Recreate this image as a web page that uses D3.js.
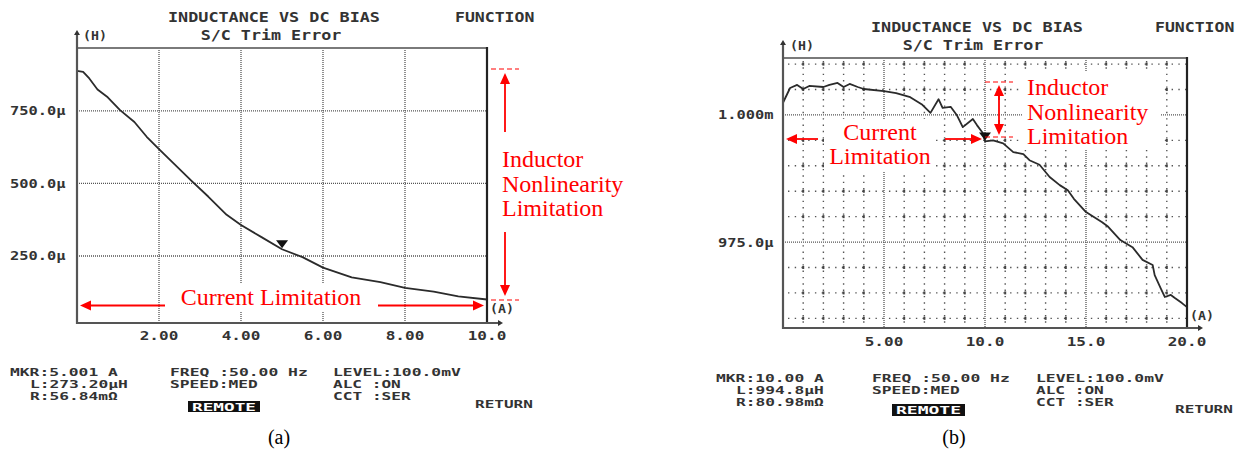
<!DOCTYPE html>
<html>
<head>
<meta charset="utf-8">
<script src="https://cdn.jsdelivr.net/npm/d3@7"></script>
<style>
  html, body { margin: 0; padding: 0; background: #fff; }
  svg { display: block; }
  .mono { font-family: "DejaVu Sans Mono", "Liberation Mono", monospace; fill: #333; font-weight: bold; }
  .serif { font-family: "Liberation Serif", "Times New Roman", serif; }
</style>
</head>
<body>
<svg id="chart" width="1247" height="461"></svg>
<script>
// ---- (a) inductance vs DC bias, 0–10 A sweep ----
const currentA = [0, 0.15, 0.3, 0.5, 0.75, 1.05, 1.4, 1.7, 2.0, 2.35, 2.8, 3.2, 3.65, 4.0, 4.5, 5.0, 5.5, 6.0, 6.7, 7.4, 8.0, 8.7, 9.3, 10.0];
const inductanceA = [888, 885, 862, 824, 797, 753, 712, 661, 618, 570, 508, 455, 392, 357, 315, 273.2, 246, 210, 176, 160, 140, 127, 111, 100];
const yRangeA = [19, 967];            // µH shown on the screen
const xRangeA = [0, 10];              // A
const xTicksA = [2, 4, 6, 8, 10];
const xTickLabelsA = ["2.00", "4.00", "6.00", "8.00", "10.0"];
const yTicksA = [250, 500, 750];
const yTickLabelsA = ["250.0\u03bc", "500.0\u03bc", "750.0\u03bc"];
const markerA = { current: 5.001, inductance: 273.20 };
const readoutA = [
  ["MKR:5.001 A", "L:273.20\u03bcH", "R:56.84m\u03a9"],
  ["FREQ :50.00 Hz", "SPEED:MED"],
  ["LEVEL:100.0mV", "ALC :ON", "CCT :SER"]
];

// ---- (b) inductance vs DC bias, 0–20 A sweep ----
const currentB = [0, 0.35, 0.7, 1.0, 1.3, 2.0, 2.3, 2.7, 3.0, 3.3, 3.7, 4.0, 5.0, 5.6, 6.3, 6.9, 7.3, 7.7, 7.9, 8.3, 8.6, 8.9, 9.4, 9.6, 9.9, 10.0, 10.4, 10.9, 11.4, 11.9, 12.2, 12.7, 13.2, 13.7, 14.1, 14.4, 15.0, 15.8, 16.1, 16.7, 17.3, 17.8, 18.3, 18.4, 18.7, 18.9, 19.2, 19.4, 19.75, 20.0];
const inductanceB = [1002.4, 1005.3, 1005.9, 1005.1, 1005.7, 1005.5, 1005.9, 1006.3, 1005.5, 1006.1, 1005.5, 1005.1, 1004.7, 1004.3, 1003.5, 1002.0, 1000.4, 1003.1, 1001.4, 1001.6, 1000.0, 997.6, 999.2, 998.0, 996.4, 994.8, 995.0, 994.4, 992.7, 992.3, 991.1, 990.2, 987.8, 986.2, 985.2, 983.5, 980.9, 978.9, 978.0, 975.4, 974.0, 971.5, 970.5, 968.5, 965.9, 964.2, 964.6, 964.0, 963.0, 962.2];
const yRangeB = [958.1, 1011.2];
const xRangeB = [0, 20];
const xTicksB = [5, 10, 15, 20];
const xTickLabelsB = ["5.00", "10.0", "15.0", "20.0"];
const yTicksB = [975, 1000];
const yTickLabelsB = ["975.0\u03bc", "1.000m"];
const xMinorB = d3.range(1, 20).filter(v => v % 5 !== 0);
const yMinorB = d3.range(960, 1011, 5).filter(v => v !== 975 && v !== 1000);
const markerB = { current: 10.00, inductance: 994.8 };
const readoutB = [
  ["MKR:10.00 A", "L:994.8\u03bcH", "R:80.98m\u03a9"],
  ["FREQ :50.00 Hz", "SPEED:MED"],
  ["LEVEL:100.0mV", "ALC :ON", "CCT :SER"]
];

const svg = d3.select("#chart");
const RED = "#ff0000";

// screen layout of each analyzer capture
const panels = [
  { x0: 77, x1: 487, y0: 48, y1: 323, xDom: xRangeA, yDom: yRangeA,
    xs: currentA, ys: inductanceA, xt: xTicksA, xtl: xTickLabelsA, yt: yTicksA, ytl: yTickLabelsA,
    marker: markerA, readout: readoutA, caption: "(a)",
    titleX: 274, titleY: 17, subX: 271, subY: 35, funcX: 455, hX: 83, hY: 35,
    yLabX: 10, xLabY: 335, aX: 490, aY: 308,
    readY: [372, 384, 396], cols: [10, 170, 333], remote: { x: 188, y: 401, w: 72, h: 11 },
    retX: 475, retY: 404, capX: 279, capY: 437, minor: false },
  { x0: 783, x1: 1187, y0: 58, y1: 328, xDom: xRangeB, yDom: yRangeB,
    xs: currentB, ys: inductanceB, xt: xTicksB, xtl: xTickLabelsB, yt: yTicksB, ytl: yTickLabelsB,
    marker: markerB, readout: readoutB, caption: "(b)",
    titleX: 977, titleY: 27, subX: 973, subY: 45, funcX: 1155, hX: 790, hY: 45,
    yLabX: 718, xLabY: 341, aX: 1190, aY: 315,
    readY: [378, 390, 402], cols: [716, 872, 1036], remote: { x: 892, y: 404, w: 73, h: 12 },
    retX: 1175, retY: 409, capX: 954, capY: 437, minor: true }
];

// instrument-style text: each glyph cell is `adv` px wide, glyphs stretched to fill
function monoText(g, str, x, y, size, adv, anchor) {
  return g.append("text").attr("class", "mono")
    .attr("x", x).attr("y", y)
    .attr("dominant-baseline", "central")
    .attr("text-anchor", anchor || "start")
    .attr("textLength", str.length * adv - adv * 0.22)
    .attr("lengthAdjust", "spacingAndGlyphs")
    .style("font-size", size + "px")
    .text(str);
}

panels.forEach(p => {
  const g = svg.append("g");
  const x = d3.scaleLinear().domain(p.xDom).range([p.x0, p.x1]);
  const y = d3.scaleLinear().domain(p.yDom).range([p.y1, p.y0]);

  // minor grid (1 A / 5 µH) drawn as sparse dots
  if (p.minor) {
    g.selectAll(".vmin").data(xMinorB).join("line")
      .attr("x1", d => x(d)).attr("x2", d => x(d))
      .attr("y1", p.y0 + 3).attr("y2", p.y1)
      .attr("stroke", "#555").attr("stroke-width", 1.4)
      .attr("stroke-dasharray", "1.4 4.95");
    g.selectAll(".hmin").data(yMinorB).join("line")
      .attr("x1", p.x0 + 5).attr("x2", p.x1)
      .attr("y1", d => y(d)).attr("y2", d => y(d))
      .attr("stroke", "#555").attr("stroke-width", 1.4)
      .attr("stroke-dasharray", "1.4 5.33");
    // small marks where the minor grid crosses
    const cross = [];
    xMinorB.forEach(a => yMinorB.forEach(b => cross.push([a, b])));
    g.selectAll(".cr").data(cross).join("rect")
      .attr("x", d => x(d[0]) - 1).attr("y", d => y(d[1]) - 1.5)
      .attr("width", 2).attr("height", 3).attr("fill", "#444");
  }

  // major grid: dense dotted lines
  const xMajor = p.xt.filter(v => v < p.xDom[1]);
  g.selectAll(".vmaj").data(xMajor).join("line")
    .attr("x1", d => x(d)).attr("x2", d => x(d))
    .attr("y1", p.y0).attr("y2", p.y1)
    .attr("stroke", "#555").attr("stroke-width", 1.3)
    .attr("stroke-dasharray", "1 1");
  g.selectAll(".hmaj").data(p.yt).join("line")
    .attr("x1", p.x0).attr("x2", p.x1)
    .attr("y1", d => y(d)).attr("y2", d => y(d))
    .attr("stroke", "#555").attr("stroke-width", 1.3)
    .attr("stroke-dasharray", "1 1");

  p.g = g; p.x = x; p.y = y;
});

// white patches behind the annotation text (drawn over the grid)
svg.append("rect").attr("x", 172).attr("y", 284).attr("width", 198).attr("height", 28).attr("fill", "#fff");
svg.append("rect").attr("x", 824).attr("y", 119).attr("width", 112).attr("height", 52).attr("fill", "#fff");
svg.append("rect").attr("x", 1023).attr("y", 72).attr("width", 138).attr("height", 78).attr("fill", "#fff");

panels.forEach(p => {
  const g = svg.append("g");
  const { x, y } = p;

  // measured trace
  const pts = p.xs.map((v, i) => [v, p.ys[i]]);
  g.append("path").datum(pts)
    .attr("fill", "none").attr("stroke", "#2b2b2b").attr("stroke-width", 1.8)
    .attr("stroke-linejoin", "round")
    .attr("d", d3.line().x(d => x(d[0])).y(d => y(d[1])));

  // marker triangle
  const mx = x(p.marker.current), my = y(p.marker.inductance);
  g.append("path")
    .attr("d", `M${mx - 6},${my - 9}L${mx + 6},${my - 9}L${mx},${my - 1}Z`)
    .attr("fill", "#111");

  // frame and axes
  g.append("line").attr("x1", p.x0).attr("x2", p.x1 + 1).attr("y1", p.y0).attr("y2", p.y0)
    .attr("stroke", "#7a7a7a").attr("stroke-width", 2.2);
  g.append("line").attr("x1", p.x1).attr("x2", p.x1).attr("y1", p.y0 - 1).attr("y2", p.y1)
    .attr("stroke", "#222").attr("stroke-width", 2.2);
  g.append("line").attr("x1", p.x0).attr("x2", p.x0).attr("y1", p.y0 - 14).attr("y2", p.y1 + 1)
    .attr("stroke", "#555").attr("stroke-width", 2.2);
  g.append("line").attr("x1", p.x0).attr("x2", p.x1 + 12).attr("y1", p.y1).attr("y2", p.y1)
    .attr("stroke", "#555").attr("stroke-width", 2.2);
  g.append("path").attr("d", `M${p.x0 - 3},${p.y0 - 13}L${p.x0 + 3},${p.y0 - 13}L${p.x0},${p.y0 - 18}Z`).attr("fill", "#333");
  g.append("path").attr("d", `M${p.x1 + 11},${p.y1 - 3}L${p.x1 + 11},${p.y1 + 3}L${p.x1 + 16},${p.y1}Z`).attr("fill", "#333");

  // header
  monoText(g, "INDUCTANCE VS DC BIAS", p.titleX, p.titleY, 14, 10.2, "middle");
  monoText(g, "S/C Trim Error", p.subX, p.subY, 14, 10.2, "middle");
  monoText(g, "FUNCTION", p.funcX, p.titleY, 14, 10.2);
  monoText(g, "(H)", p.hX, p.hY, 13, 8.6);
  monoText(g, "(A)", p.aX, p.aY, 13, 8.6);

  // tick labels
  p.yt.forEach((v, i) => monoText(g, p.ytl[i], p.yLabX, y(v), 13, 9.6));
  p.xt.forEach((v, i) => monoText(g, p.xtl[i], x(v), p.xLabY, 13, 10.2, "middle"));

  // readout block
  const r = p.readout, fs = 10.5, adv = 10;
  monoText(g, r[0][0], p.cols[0], p.readY[0], fs, adv);
  monoText(g, r[0][1], p.cols[0] + 20, p.readY[1], fs, adv);
  monoText(g, r[0][2], p.cols[0] + 20, p.readY[2], fs, adv);
  monoText(g, r[1][0], p.cols[1], p.readY[0], fs, adv);
  monoText(g, r[1][1], p.cols[1], p.readY[1], fs, adv);
  monoText(g, r[2][0], p.cols[2], p.readY[0], fs, adv);
  monoText(g, r[2][1], p.cols[2], p.readY[1], fs, adv);
  monoText(g, r[2][2], p.cols[2], p.readY[2], fs, adv);
  g.append("rect").attr("x", p.remote.x).attr("y", p.remote.y)
    .attr("width", p.remote.w).attr("height", p.remote.h).attr("fill", "#111");
  g.append("text").attr("class", "mono")
    .attr("x", p.remote.x + 4).attr("y", p.remote.y + p.remote.h / 2 + 0.5)
    .attr("dominant-baseline", "central")
    .attr("textLength", p.remote.w - 8).attr("lengthAdjust", "spacingAndGlyphs")
    .style("font-size", "11px").style("fill", "#fff")
    .text("REMOTE");
  monoText(g, "RETURN", p.retX, p.retY, fs, adv);

  // caption
  g.append("text").attr("class", "serif")
    .attr("x", p.capX).attr("y", p.capY).attr("text-anchor", "middle")
    .attr("dominant-baseline", "central")
    .style("font-size", "20px").attr("fill", "#000").text(p.caption);
});

// red annotations
const ann = svg.append("g");
function arrow(x1, y1, x2, y2) {
  const ang = Math.atan2(y2 - y1, x2 - x1), L = 11, w = 5;
  const bx = x2 - L * Math.cos(ang), by = y2 - L * Math.sin(ang);
  ann.append("line").attr("x1", x1).attr("y1", y1).attr("x2", bx).attr("y2", by)
    .attr("stroke", RED).attr("stroke-width", 1.8);
  const px = -Math.sin(ang) * w, py = Math.cos(ang) * w;
  ann.append("path")
    .attr("d", `M${x2},${y2}L${bx + px},${by + py}L${bx - px},${by - py}Z`)
    .attr("fill", RED);
}
function dash(x1, x2, yy) {
  ann.append("line").attr("x1", x1).attr("x2", x2).attr("y1", yy).attr("y2", yy)
    .attr("stroke", RED).attr("stroke-width", 1.2).attr("stroke-dasharray", "5 3");
}
function redText(str, xx, yy, anchor) {
  ann.append("text").attr("class", "serif").attr("x", xx).attr("y", yy)
    .attr("text-anchor", anchor || "start")
    .style("font-size", "24px").attr("fill", RED).text(str);
}

// (a)
dash(491, 519, 69);
dash(491, 519, 300);
arrow(505, 132, 505, 73);
arrow(505, 232, 505, 296);
redText("Inductor", 502, 167);
redText("Nonlinearity", 502, 192);
redText("Limitation", 502, 216);
redText("Current Limitation", 271, 305, "middle");
arrow(165, 305.5, 80, 305.5);
arrow(378, 305.5, 484, 305.5);

// (b)
dash(985, 1013, 82);
dash(985, 1013, 137);
ann.append("line").attr("x1", 999).attr("x2", 999).attr("y1", 94).attr("y2", 126)
  .attr("stroke", RED).attr("stroke-width", 1.8);
arrow(999, 100, 999, 85);
arrow(999, 120, 999, 135);
redText("Inductor", 1027, 95);
redText("Nonlinearity", 1027, 120);
redText("Limitation", 1027, 144);
redText("Current", 880, 140, "middle");
redText("Limitation", 880, 164, "middle");
arrow(818, 139, 786, 139);
arrow(945, 139, 982, 139);
</script>
</body>
</html>
